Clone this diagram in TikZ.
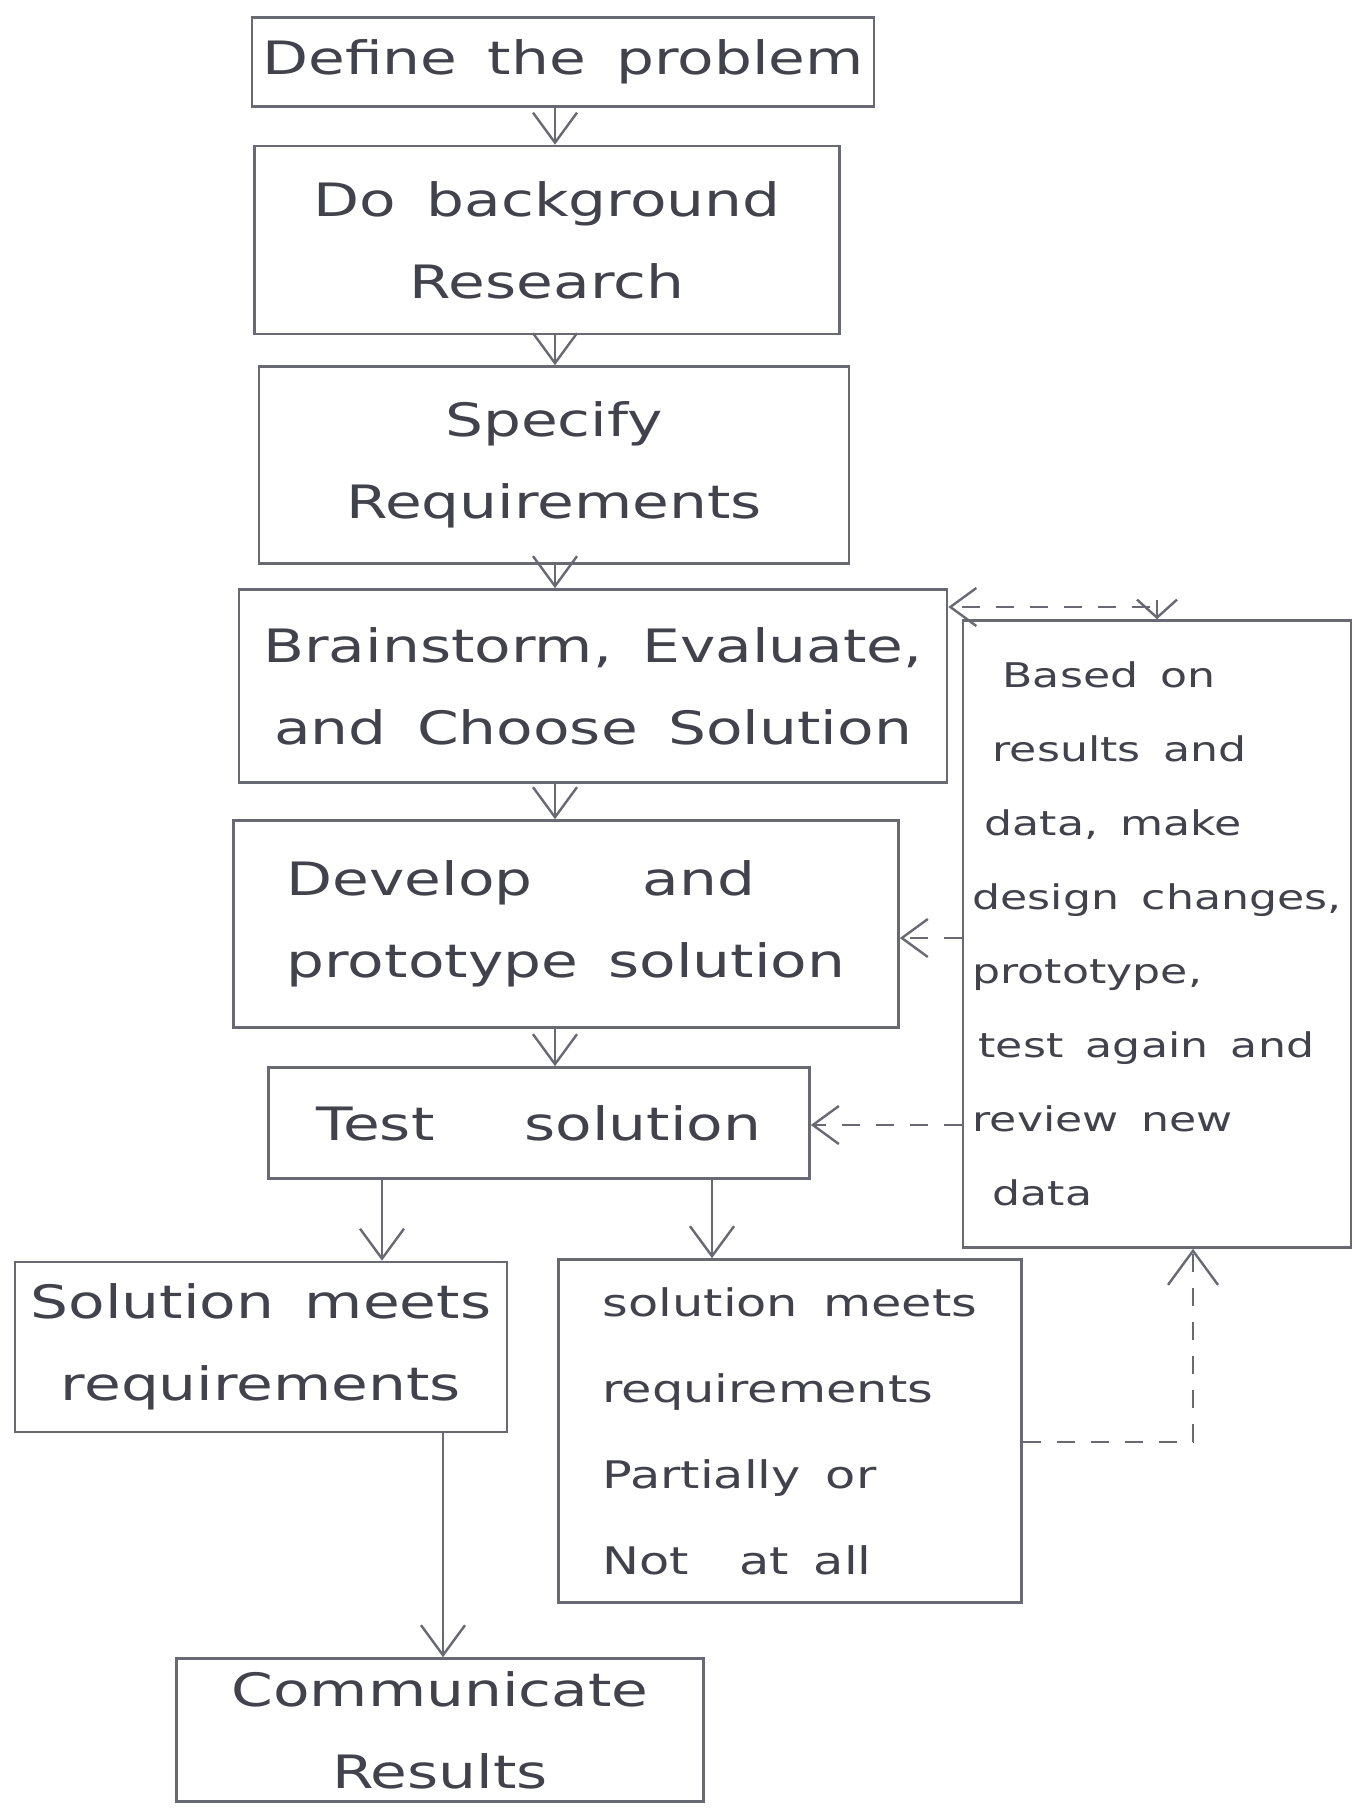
\documentclass[tikz,border=0pt]{standalone}
\usepackage{fontspec}
\newfontfamily\hand{DejaVu Sans}[FakeStretch=1.3,WordSpace=1.6]
\usetikzlibrary{arrows.meta}
\definecolor{pen}{RGB}{105,105,115}
\definecolor{ink}{RGB}{66,66,76}
\begin{document}
\begin{tikzpicture}[x=1pt,y=-1pt,
  box/.style={draw=pen, line width=2.6pt, rectangle, inner sep=0pt, text=ink,
    font=\hand\fontsize{46}{82}\selectfont, align=center},
  smallbox/.style={box, font=\hand\fontsize{38}{86}\selectfont, align=left},
  sidebox/.style={box, font=\hand\fontsize{34}{74}\selectfont, align=left},
  conn/.style={draw=pen, line width=2.4pt, -{Straight Barb[length=30pt,width=44pt]}},
  dconn/.style={conn, dash pattern=on 18pt off 16pt, -{Straight Barb[length=26pt,width=38pt]}},
]
\fill[white] (0,0) rectangle (1356,1808);
\useasboundingbox (0,0) rectangle (1356,1808);

% main chain of steps
\node[box, minimum width=622pt, minimum height=89pt]  (b1) at (563,62)   {Define the problem};
\node[box, minimum width=585pt, minimum height=188pt] (b2) at (547,240)  {Do background\\Research};
\node[box, minimum width=590pt, minimum height=197pt] (b3) at (554,465)  {Specify\\Requirements};
\node[box, minimum width=708pt, minimum height=193pt] (b4) at (593,686)  {Brainstorm, Evaluate,\\and Choose Solution};
\node[box, align=left, minimum width=665pt, minimum height=207pt] (b5) at (566,924)
  {Develop\hskip 110pt and\\prototype solution};
\node[box, minimum width=541pt, minimum height=111pt] (b6) at (539,1123) {Test\hskip 90pt solution};

% outcomes
\node[box, minimum width=492pt, minimum height=170pt] (b7) at (261,1347) {Solution meets\\requirements};
\node[smallbox, minimum width=463pt, minimum height=343pt] (b8) at (790,1431)
  {solution meets\\requirements\\Partially or\\Not\hskip 50pt at all};
\node[box, minimum width=527pt, minimum height=143pt] (b9) at (440,1730) {Communicate\\Results};

% iteration box
\node[sidebox, minimum width=388pt, minimum height=627pt] (side) at (1157,934)
  {\hspace*{30pt}Based on\\\hspace*{20pt}results and\\\hspace*{12pt}data, make\\design changes,\\prototype,\\\hspace*{6pt}test again and\\review new\\\hspace*{20pt}data};

% connector columns and rows
\coordinate (cA) at (555,0);
\coordinate (cB) at (382,0);
\coordinate (cC) at (712,0);
\coordinate (cD) at (443,0);
\coordinate (cE) at (1193,0);
\coordinate (tR) at (1150,607);
\coordinate (tD) at (1157,600);
\coordinate (rB) at (0,938);
\coordinate (rC) at (0,1125);
\coordinate (rD) at (0,1442);

% solid flow
\draw[conn] (b1.south -| cA) -- (b2.north -| cA);
\draw[conn] (b2.south -| cA) -- (b3.north -| cA);
\draw[conn] (b3.south -| cA) -- (b4.north -| cA);
\draw[conn] (b4.south -| cA) -- (b5.north -| cA);
\draw[conn] (b5.south -| cA) -- (b6.north -| cA);
\draw[conn] (b6.south -| cB) -- (b7.north -| cB);
\draw[conn] (b6.south -| cC) -- (b8.north -| cC);
\draw[conn] (b7.south -| cD) -- (b9.north -| cD);

% feedback loop (dashed)
\draw[dconn, -{Straight Barb[length=34pt,width=50pt]}] (b8.east |- rD) -| (side.south -| cE);
\draw[dconn] (side.west |- rC) -- (b6.east |- rC);
\draw[dconn] (side.west |- rB) -- (b5.east |- rB);
\draw[dconn] (tR) -- (b4.east |- tR);
\draw[conn, -{Straight Barb[length=18pt,width=40pt]}] (tD) -- (side.north -| tD);
\end{tikzpicture}
\end{document}
